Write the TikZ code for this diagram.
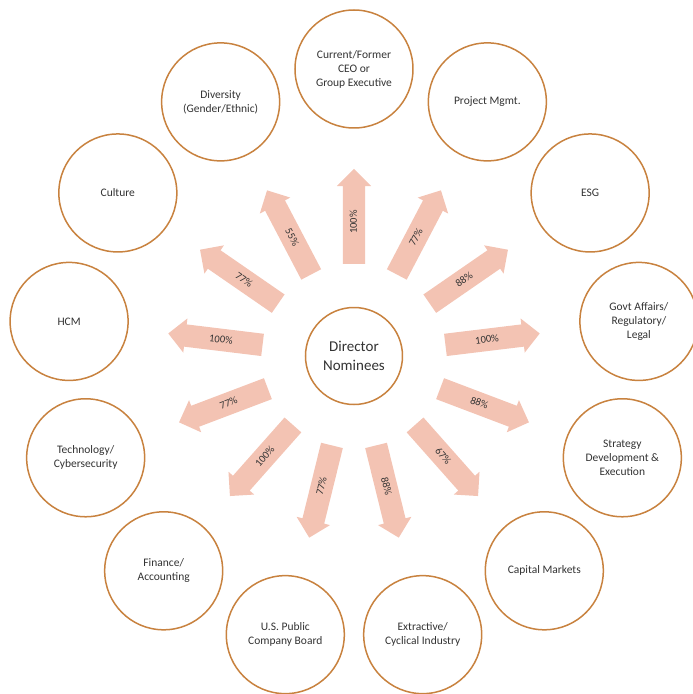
\documentclass[tikz,border=0pt]{standalone}
\usepackage{fontspec}
\setmainfont{Carlito}
\usepackage{tikz}
\usetikzlibrary{shapes.arrows}
\usepackage{xcolor}
\definecolor{ringorange}{HTML}{C8823F}
\definecolor{arrowpink}{HTML}{F3C3B3}
\definecolor{textgray}{HTML}{333333}

\begin{document}
\begin{tikzpicture}[
    x=1pt, y=1pt,
    skill/.style={
      draw=ringorange, line width=1.5pt, circle, fill=white,
      minimum size=118pt, inner sep=0pt, align=center,
      font=\fontsize{11.5}{14}\selectfont, text=textgray
    },
    hub/.style={skill, minimum size=97pt, font=\fontsize{15}{19}\selectfont},
    pct/.style={
      single arrow, fill=arrowpink, draw=none,
      single arrow head extend=6pt, single arrow tip angle=90,
      minimum height=95pt, text height=7pt, text depth=1pt,
      inner ysep=7pt, inner xsep=2pt,
      font=\fontsize{10.5}{12}\selectfont, text=textgray
    },
    pctback/.style={pct, shape border rotate=180},
  ]
    \useasboundingbox (-354,-338) rectangle (339,356);

    % --- Hub ---
    \node[hub] (dn) at (0,0) {Director\\Nominees};

    % --- Skill circles ---
    \node[skill] (ceo)   at (90:287)     {Current/Former\\CEO or\\Group Executive};
    \node[skill] (pm)    at (62.31:287)  {Project Mgmt.};
    \node[skill] (esg)   at (34.62:287)  {ESG};
    \node[skill] (govt)  at (6.92:287)   {Govt Affairs/\\Regulatory/\\Legal};
    \node[skill] (strat) at (-20.77:287) {Strategy\\Development \&\\Execution};
    \node[skill] (cap)   at (-48.46:287) {Capital Markets};
    \node[skill] (extr)  at (-76.15:287) {Extractive/\\Cyclical Industry};
    \node[skill] (board) at (-103.85:287) {U.S. Public\\Company Board};
    \node[skill] (fin)   at (-131.54:287) {Finance/\\Accounting};
    \node[skill] (tech)  at (-159.23:287) {Technology/\\Cybersecurity};
    \node[skill] (hcm)   at (173.08:287)  {HCM};
    \node[skill] (cult)  at (145.38:287)  {Culture};
    \node[skill] (div)   at (117.69:287)  {Diversity\\(Gender/Ethnic)};

    % --- Percentage arrows ---
    \node[pct, rotate=90]         (aceo)   at (90:134)     {100\%};
    \node[pct, rotate=62.31]      (apm)    at (62.31:134)  {77\%};
    \node[pct, rotate=34.62]      (aesg)   at (34.62:134)  {88\%};
    \node[pct, rotate=6.92]       (agovt)  at (6.92:134)   {100\%};
    \node[pct, rotate=-20.77]     (astrat) at (-20.77:134) {88\%};
    \node[pct, rotate=-48.46]     (acap)   at (-48.46:134) {67\%};
    \node[pct, rotate=-76.15]     (aextr)  at (-76.15:134) {88\%};
    \node[pctback, rotate=76.15]  (aboard) at (-103.85:134) {77\%};
    \node[pctback, rotate=48.46]  (afin)   at (-131.54:134) {100\%};
    \node[pctback, rotate=20.77]  (atech)  at (-159.23:134) {77\%};
    \node[pctback, rotate=-6.92]  (ahcm)   at (173.08:134)  {100\%};
    \node[pctback, rotate=-34.62] (acult)  at (145.38:134)  {77\%};
    \node[pctback, rotate=-62.31] (adiv)   at (117.69:134)  {55\%};
  \end{tikzpicture}
\end{document}
